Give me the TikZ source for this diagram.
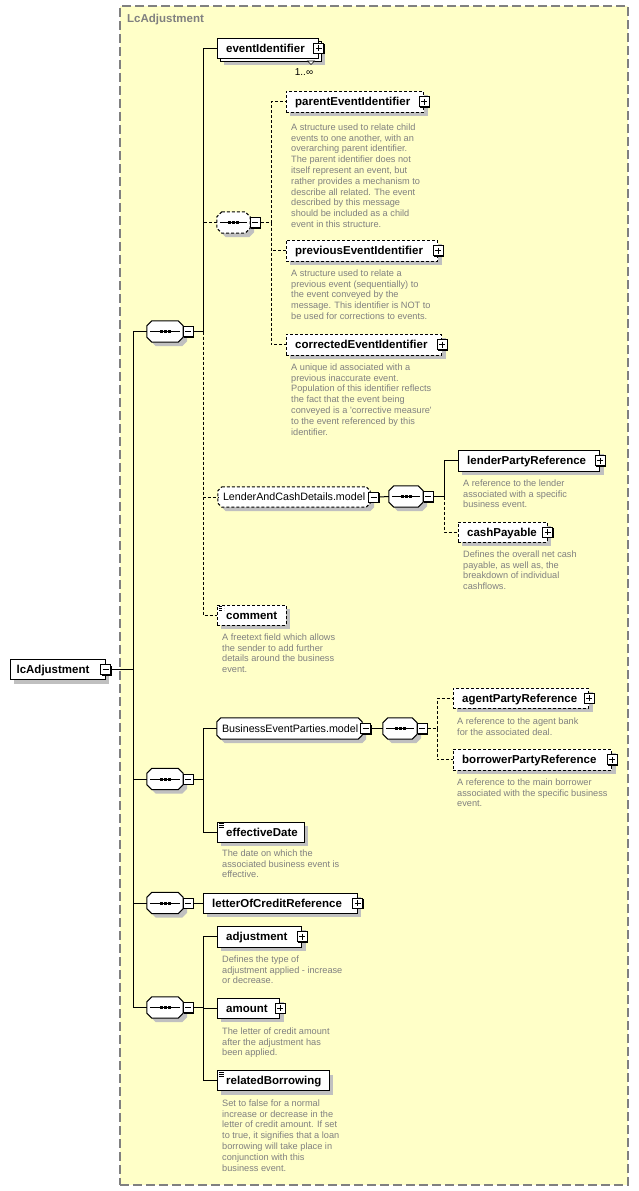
\documentclass[tikz,border=0pt]{standalone}
\usepackage{fontspec}
\setmainfont{Liberation Sans}
\usetikzlibrary{shadows}
\definecolor{bgy}{RGB}{255,255,200}
\definecolor{frm}{RGB}{128,128,128}
\definecolor{dsc}{RGB}{128,128,128}
\definecolor{shd}{RGB}{192,192,192}
\tikzset{
  conn/.style={line width=1pt},
  dconn/.style={line width=1pt, dash pattern=on 3pt off 2pt},
  sh/.style={general shadow={fill=shd, shadow xshift=4pt, shadow yshift=-4pt}},
  elemns/.style={rectangle, draw=black, fill=white, line width=1pt, inner sep=0pt},
  elem/.style={elemns, sh},
  optelem/.style={elem, dash pattern=on 3pt off 2pt},
  simp/.style={path picture={
      \foreach \dy in {1.5,3.5,5.5}{
        \draw[line width=0.7pt] ([xshift=2pt,yshift=-\dy pt]path picture bounding box.north west)
          -- ([xshift=7pt,yshift=-\dy pt]path picture bounding box.north west);}}},
  slot/.style={rectangle, draw=none, fill=none, inner sep=0pt, minimum height=21pt},
  sbox/.style={rectangle, draw=black, fill=white, line width=1pt, inner sep=0pt, minimum size=10pt,
      general shadow={fill=black, shadow xshift=1pt, shadow yshift=-1pt}},
  mbox/.style={sbox, path picture={
      \draw[line width=1pt] ([xshift=2pt]path picture bounding box.west) -- ([xshift=-2pt]path picture bounding box.east);}},
  pbox/.style={sbox, path picture={
      \draw[line width=1pt] ([xshift=2pt]path picture bounding box.west) -- ([xshift=-2pt]path picture bounding box.east);
      \draw[line width=1pt] ([yshift=-2pt]path picture bounding box.north) -- ([yshift=2pt]path picture bounding box.south);}},
  lbl/.style={anchor=base west, inner sep=0pt, font=\fontsize{11.5}{13}\selectfont\bfseries},
  glbl/.style={anchor=base west, inner sep=0pt, font=\fontsize{10.7}{13}\selectfont},
  desc/.style={anchor=north west, inner sep=0pt, align=left, text=dsc, font=\fontsize{9.2}{10.8}\selectfont, yshift=-2pt},
}
% chamfered outline (with shadow) around a named slot node
\newcommand\octa[3][]{%
  \fill[shd, transform canvas={shift={(4pt,-4pt)}}]
    ([xshift=#3]#2.north west) -- ([xshift=-#3]#2.north east) -- ([yshift=-#3]#2.north east)
    -- ([yshift=#3]#2.south east) -- ([xshift=-#3]#2.south east) -- ([xshift=#3]#2.south west)
    -- ([yshift=#3]#2.south west) -- ([yshift=-#3]#2.north west) -- cycle;
  \draw[fill=white, line width=1pt, #1]
    ([xshift=#3]#2.north west) -- ([xshift=-#3]#2.north east) -- ([yshift=-#3]#2.north east)
    -- ([yshift=#3]#2.south east) -- ([xshift=-#3]#2.south east) -- ([xshift=#3]#2.south west)
    -- ([yshift=#3]#2.south west) -- ([yshift=-#3]#2.north west) -- cycle;}
% sequence compositor symbol
\newcommand\seqsym[2][]{%
  \octa[#1]{#2}{5pt}%
  \draw[line width=1pt] ([xshift=3pt]#2.west) -- ([xshift=-3pt]#2.east);
  \foreach \dx in {-5.5,-1.5,2.5}{\fill ([xshift=\dx pt,yshift=-1.5pt]#2.center) rectangle ++(3pt,3pt);}}
\newcommand\mylab[3]{\node[lbl] (#1) at ([xshift=9.5pt,yshift=-4.1pt]#2.west) {#3};}
\newcommand\mygl[3]{\node[glbl] (#1) at ([xshift=5pt,yshift=-3.8pt]#2.west) {#3};}
\begin{document}
\begin{tikzpicture}[x=1pt,y=-1pt]
\useasboundingbox (0,0) rectangle (639,1191);
\fill[white] (0,0) rectangle (639,1191);
% container
\node[draw=frm, fill=bgy, line width=1.3pt, dash pattern=on 9pt off 4pt, minimum width=508pt, minimum height=1179pt, inner sep=0pt] (ctr) at (374,595.5) {};
\node[anchor=base west, inner sep=0pt, text=frm, font=\fontsize{11.5}{13}\selectfont\bfseries] (title) at (127,23) {LcAdjustment};

% root
\node[elem, minimum width=95pt, minimum height=20pt] (root) at (57.5,669.5) {};
\node[anchor=base, inner sep=0pt, font=\fontsize{11.5}{13}\selectfont\bfseries] (rootT) at ([yshift=-4.1pt]53,669.5) {lcAdjustment};
\node[mbox] (rootM) at (root.east) {};
\coordinate (tr) at (133,669.5);

% sequence 1
\node[slot, minimum width=36pt] (s1) at (165,331.5) {};
\seqsym{s1}
\node[mbox] (s1M) at ([xshift=5pt]s1.east) {};
\coordinate (b1) at (203,331.5);

% eventIdentifier (1..inf)
\node[elem, minimum width=101pt, minimum height=20pt] (eidB) at (270.5,51) {};
\filldraw[fill=white, line width=0.6pt] (307.5,61) -- (311,64.5) -- (314.5,61) -- cycle;
\node[elemns, minimum width=101pt, minimum height=20pt] (eid) at (267.5,48) {};
\mylab{eidT}{eid}{eventIdentifier}
\node[pbox] (eidP) at (eid.east) {};
\node[anchor=base, inner sep=0pt, font=\fontsize{10}{12}\selectfont] (mult) at (304,75) {1..∞};

% optional sequence
\node[slot, minimum width=33pt] (ch) at (233.5,222.5) {};
\seqsym[dash pattern=on 3pt off 2pt]{ch}
\node[mbox] (chM) at ([xshift=5pt]ch.east) {};
\coordinate (b2) at (271,222.5);

\node[optelem, minimum width=137.5pt, minimum height=21pt] (pei) at (354.75,101.5) {};
\mylab{peiT}{pei}{parentEventIdentifier}
\node[pbox] (peiP) at (pei.east) {};
\node[desc] (peiD) at (291,121.5) {A structure used to relate child\\events to one another, with an\\overarching parent identifier.\\The parent identifier does not\\itself represent an event, but\\rather provides a mechanism to\\describe all related. The event\\described by this message\\should be included as a child\\event in this structure.};

\node[optelem, minimum width=151.5pt, minimum height=21pt] (pvi) at (361.75,250.5) {};
\mylab{pviT}{pvi}{previousEventIdentifier}
\node[pbox] (pviP) at (pvi.east) {};
\node[desc] (pviD) at (291,267.5) {A structure used to relate a\\previous event (sequentially) to\\the event conveyed by the\\message. This identifier is NOT to\\be used for corrections to events.};

\node[optelem, minimum width=155.5pt, minimum height=21pt] (cei) at (363.75,344.5) {};
\mylab{ceiT}{cei}{correctedEventIdentifier}
\node[pbox] (ceiP) at (cei.east) {};
\node[desc] (ceiD) at (291,361.5) {A unique id associated with a\\previous inaccurate event.\\Population of this identifier reflects\\the fact that the event being\\conveyed is a \textquotesingle corrective measure\textquotesingle\\to the event referenced by this\\identifier.};

% LenderAndCashDetails.model
\node[slot, minimum width=152pt, minimum height=20pt] (lcd) at (294,497) {};
\octa[dash pattern=on 3pt off 2pt]{lcd}{4pt}
\mygl{lcdT}{lcd}{LenderAndCashDetails.model}
\node[mbox] (lcdM) at ([xshift=3.5pt]lcd.east) {};
\node[slot, minimum width=34pt] (ls2) at (406,496.5) {};
\seqsym{ls2}
\node[mbox] (ls2M) at ([xshift=5pt]ls2.east) {};
\coordinate (b3) at (444,496.5);

\node[elem, minimum width=141.5pt, minimum height=21pt] (lpr) at (528.75,460.5) {};
\mylab{lprT}{lpr}{lenderPartyReference}
\node[pbox] (lprP) at (lpr.east) {};
\node[desc] (lprD) at (463,477.5) {A reference to the lender\\associated with a specific\\business event.};

\node[optelem, minimum width=89pt, minimum height=20pt] (cp) at (502.5,532) {};
\mylab{cpT}{cp}{cashPayable}
\node[pbox] (cpP) at (cp.east) {};
\node[desc] (cpD) at (463,548.5) {Defines the overall net cash\\payable, as well as, the\\breakdown of individual\\cashflows.};

% comment
\node[optelem, simp, minimum width=69pt, minimum height=20pt] (cm) at (251.5,615) {};
\mylab{cmT}{cm}{comment}
\node[desc] (cmD) at (222,631.5) {A freetext field which allows\\the sender to add further\\details around the business\\event.};

% sequence 2
\node[slot, minimum width=36pt] (s2) at (165,779) {};
\seqsym{s2}
\node[mbox] (s2M) at ([xshift=5pt]s2.east) {};
\coordinate (b4) at (203,779);

\node[slot, minimum width=145pt] (bep) at (289.5,728.5) {};
\octa{bep}{4pt}
\mygl{bepT}{bep}{BusinessEventParties.model}
\node[mbox] (bepM) at ([xshift=3.5pt]bep.east) {};
\node[slot, minimum width=34pt] (bs2) at (400,728.5) {};
\seqsym{bs2}
\node[mbox] (bs2M) at ([xshift=5pt]bs2.east) {};
\coordinate (b5) at (437,728.5);

\node[optelem, minimum width=135.5pt, minimum height=20pt] (apr) at (520.75,698) {};
\mylab{aprT}{apr}{agentPartyReference}
\node[pbox] (aprP) at (apr.east) {};
\node[desc] (aprD) at (457,715.5) {A reference to the agent bank\\for the associated deal.};

\node[optelem, minimum width=158.5pt, minimum height=21pt] (bpr) at (532.25,759.5) {};
\mylab{bprT}{bpr}{borrowerPartyReference}
\node[pbox] (bprP) at (bpr.east) {};
\node[desc] (bprD) at (457,776.5) {A reference to the main borrower\\associated with the specific business\\event.};

\node[elem, simp, minimum width=87pt, minimum height=20pt] (ed) at (260.5,832) {};
\mylab{edT}{ed}{effectiveDate}
\node[desc] (edD) at (222,847.5) {The date on which the\\associated business event is\\effective.};

% sequence 3
\node[slot, minimum width=36pt] (s3) at (165,903) {};
\seqsym{s3}
\node[mbox] (s3M) at ([xshift=5pt]s3.east) {};
\node[elem, minimum width=154pt, minimum height=20pt] (lcr) at (280,903) {};
\mylab{lcrT}{lcr}{letterOfCreditReference}
\node[pbox] (lcrP) at (lcr.east) {};

% sequence 4
\node[slot, minimum width=36pt] (s4) at (165,1007.5) {};
\seqsym{s4}
\node[mbox] (s4M) at ([xshift=5pt]s4.east) {};
\coordinate (b6) at (203,1007.5);

\node[elem, minimum width=84.5pt, minimum height=21pt] (adj) at (259.25,936.5) {};
\mylab{adjT}{adj}{adjustment}
\node[pbox] (adjP) at (adj.east) {};
\node[desc] (adjD) at (222,953.5) {Defines the type of\\adjustment applied - increase\\or decrease.};

\node[elem, minimum width=62.5pt, minimum height=20pt] (amt) at (248.25,1008) {};
\mylab{amtT}{amt}{amount}
\node[pbox] (amtP) at (amt.east) {};
\node[desc] (amtD) at (222,1025.5) {The letter of credit amount\\after the adjustment has\\been applied.};

\node[elem, simp, minimum width=112pt, minimum height=20pt] (rb) at (273,1080.5) {};
\mylab{rbT}{rb}{relatedBorrowing}
\node[desc] (rbD) at (222,1097.5) {Set to false for a normal\\increase or decrease in the\\letter of credit amount. If set\\to true, it signifies that a loan\\borrowing will take place in\\conjunction with this\\business event.};

% connectors
\draw[conn] (rootM.east) -- (tr);
\draw[conn] (s1.west) -| (tr);
\draw[conn] (s2.west) -| (tr);
\draw[conn] (s3.west) -| (tr);
\draw[conn] (s4.west) -| (tr);

\draw[dconn] (b1) |- (ch.west);
\draw[dconn] (b1) |- (lcd.west);
\draw[dconn] (b1) |- (cm.west);
\draw[conn] (s1M.east) -- (b1);
\draw[conn] (b1) |- (eid.west);

\draw[dconn] (chM.east) -- (b2);
\draw[dconn] (b2) |- (pei.west);
\draw[dconn] (b2) |- (pvi.west);
\draw[dconn] (b2) |- (cei.west);

\draw[conn] (lcdM.east) -- (ls2.west);
\draw[conn] (ls2M.east) -- (b3);
\draw[dconn] (b3) |- (cp.west);
\draw[conn] (b3) |- (lpr.west);

\draw[conn] (s2M.east) -- (b4);
\draw[conn] (b4) |- (bep.west);
\draw[conn] (b4) |- (ed.west);
\draw[conn] (bepM.east) -- (bs2.west);
\draw[dconn] (bs2M.east) -- (b5);
\draw[dconn] (b5) |- (apr.west);
\draw[dconn] (b5) |- (bpr.west);

\draw[conn] (s3M.east) -- (lcr.west);

\draw[conn] (s4M.east) -- (b6);
\draw[conn] (b6) |- (adj.west);
\draw[conn] (b6) |- (amt.west);
\draw[conn] (b6) |- (rb.west);
\end{tikzpicture}
\end{document}
